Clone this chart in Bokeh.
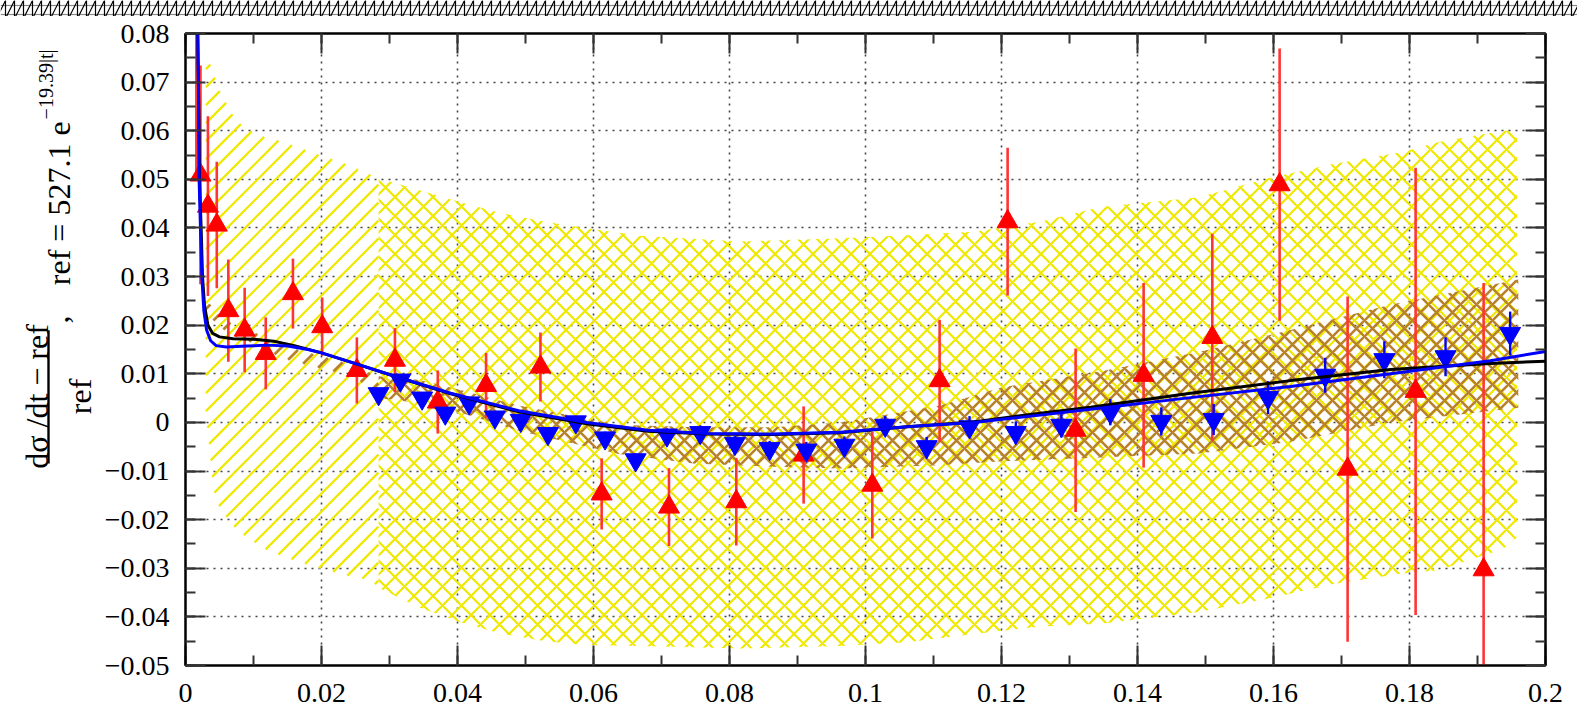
import numpy as np
from bokeh.plotting import figure
from bokeh.models import (LinearAxis, FixedTicker, CustomJSTickFormatter, Range1d)
from bokeh.core.properties import value
from bokeh.layouts import column, row
from bokeh.embed import file_html
from bokeh.resources import INLINE

# ---------------- data ----------------
red_t = [0.0016, 0.0022, 0.0033, 0.0046, 0.0063, 0.0087, 0.0118, 0.0158, 0.0201, 0.0252,
         0.0308, 0.0371, 0.0442, 0.0522, 0.0612, 0.0711, 0.0810, 0.0909, 0.1010, 0.1109,
         0.1209, 0.1309, 0.1409, 0.1510, 0.1609, 0.1709, 0.1809, 0.1909]
red_v = [0.088, 0.0509, 0.0445, 0.0406, 0.0230, 0.0190, 0.0142, 0.0265, 0.0197, 0.0107,
         0.0128, 0.0042, 0.0076, 0.0114, -0.0147, -0.0174, -0.0163, -0.0067, -0.0129, 0.0086,
         0.0413, -0.0016, 0.0097, 0.0175, 0.0489, -0.0096, 0.0064, -0.0303]
red_err = [0.038, 0.0225, 0.0185, 0.013, 0.0105, 0.0087, 0.0074, 0.0072, 0.0060, 0.0068,
           0.0066, 0.0065, 0.0067, 0.0071, 0.0073, 0.0080, 0.0090, 0.0100, 0.0110, 0.0125,
           0.0152, 0.0168, 0.0190, 0.0213, 0.0280, 0.0355, 0.0460, 0.0590]

blue_t = [0.0284, 0.0316, 0.0348, 0.0382, 0.0417, 0.0455, 0.0493, 0.0533, 0.0574, 0.0617,
          0.0662, 0.0708, 0.0757, 0.0808, 0.0859, 0.0913, 0.0969, 0.1029, 0.1090, 0.1153,
          0.1221, 0.1288, 0.1360, 0.1435, 0.1512, 0.1592, 0.1676, 0.1763, 0.1853, 0.1948]
blue_v = [0.0059, 0.0087, 0.0050, 0.0019, 0.0040, 0.0011, 0.0004, -0.0023, 0.0001, -0.0032,
          -0.0077, -0.0026, -0.0021, -0.0043, -0.0054, -0.0057, -0.0047, -0.0006, -0.0050, -0.0009,
          -0.0021, -0.0006, 0.0021, 0.0002, 0.0006, 0.0051, 0.0097, 0.0129, 0.0135, 0.0183]
blue_err = [0.0010, 0.0010, 0.0010, 0.0010, 0.0010, 0.0011, 0.0011, 0.0012, 0.0012, 0.0013,
            0.0013, 0.0014, 0.0015, 0.0015, 0.0016, 0.0017, 0.0018, 0.0019, 0.0020, 0.0022,
            0.0023, 0.0025, 0.0027, 0.0029, 0.0032, 0.0034, 0.0036, 0.0038, 0.0040, 0.0045]

black_t = [0.0017, 0.0018, 0.0019, 0.0020, 0.00205, 0.0023, 0.0025, 0.0028, 0.0033, 0.0040,
           0.0050, 0.0070, 0.0100, 0.0130, 0.0160, 0.0200, 0.0250, 0.0310, 0.0390, 0.0490,
           0.0590, 0.0680, 0.0767, 0.0865, 0.0963, 0.1061, 0.1159, 0.1257, 0.1331, 0.1478,
           0.1625, 0.1772, 0.1919, 0.2000]
black_v = [0.090, 0.080, 0.070, 0.060, 0.050, 0.040, 0.030, 0.024, 0.0200, 0.0183,
           0.0176, 0.0172, 0.0171, 0.0167, 0.0158, 0.0143, 0.0121, 0.0094, 0.0059, 0.0022,
           -0.0003, -0.0018, -0.0024, -0.0025, -0.0021, -0.0009, 0.0001, 0.0019, 0.0031, 0.0060,
           0.0086, 0.0109, 0.0121, 0.0126]

bfit_t = [0.0017, 0.0018, 0.0019, 0.00195, 0.0020, 0.0022, 0.0024, 0.0027, 0.0031, 0.0037,
          0.0045, 0.0060, 0.0090, 0.0120, 0.0150, 0.0180, 0.0200, 0.0250, 0.0310, 0.0390,
          0.0490, 0.0590, 0.0680, 0.0767, 0.0865, 0.0963, 0.1061, 0.1159, 0.1257, 0.1331,
          0.1478, 0.1625, 0.1772, 0.1919, 0.2000]
bfit_v = [0.090, 0.080, 0.070, 0.060, 0.050, 0.040, 0.030, 0.023, 0.0190, 0.0168,
          0.0158, 0.0155, 0.0157, 0.0159, 0.0157, 0.0150, 0.0143, 0.0121, 0.0094, 0.0060,
          0.0024, 0.0000, -0.0016, -0.0023, -0.0024, -0.0020, -0.0009, 0.0000, 0.0015, 0.0027,
          0.0051, 0.0074, 0.0100, 0.0127, 0.0146]

# yellow systematic band
ysys_t = [0.0030, 0.0041, 0.0051, 0.0071, 0.0088, 0.0120, 0.0142, 0.0169, 0.0190, 0.0223,
          0.0240, 0.0272, 0.0284, 0.0343, 0.0402, 0.0466, 0.0529, 0.0588, 0.0669, 0.0816,
          0.0963, 0.1061, 0.1159, 0.1257, 0.1346, 0.1490, 0.1600, 0.1690, 0.1790, 0.1843,
          0.1938, 0.1958]
ysys_hi = [0.0765, 0.0720, 0.0680, 0.0630, 0.0605, 0.0585, 0.0578, 0.0565, 0.0554, 0.0538,
           0.0530, 0.0510, 0.0502, 0.0478, 0.0454, 0.0430, 0.0413, 0.0400, 0.0384, 0.0372,
           0.0379, 0.0385, 0.0392, 0.0413, 0.0443, 0.0463, 0.0505, 0.0532, 0.0556, 0.0577,
           0.0600, 0.0600]
ysys_lo = [0.0020, -0.0140, -0.0180, -0.0215, -0.0235, -0.0263, -0.0275, -0.0288, -0.0298, -0.0310,
           -0.0316, -0.0325, -0.0340, -0.0380, -0.0410, -0.0435, -0.0450, -0.0458, -0.0460, -0.0465,
           -0.0460, -0.0452, -0.0435, -0.0420, -0.0414, -0.0390, -0.0360, -0.0332, -0.0311, -0.0304,
           -0.0260, -0.0236]
ysys_split = 12  # crosshatched from here on (where the second data set starts)

# brown band
brn_t = [0.0030, 0.0047, 0.0066, 0.0091, 0.0121, 0.0150, 0.0184, 0.0223, 0.0257, 0.0284,
         0.0343, 0.0400, 0.0490, 0.0637, 0.0750, 0.0865, 0.0963, 0.1110, 0.1200, 0.1345,
         0.1490, 0.1625, 0.1772, 0.1960]
brn_hi = [0.0254, 0.0225, 0.0206, 0.0193, 0.0171, 0.0155, 0.0142, 0.0128, 0.0110, 0.0095,
          0.0088, 0.0068, 0.0035, -0.0005, -0.0010, -0.0010, 0.0000, 0.0035, 0.0072, 0.0105,
          0.0145, 0.0190, 0.0242, 0.0294]
brn_lo = [0.0228, 0.0199, 0.0180, 0.0167, 0.0145, 0.0129, 0.0116, 0.0102, 0.0084, 0.0050,
          0.0040, 0.0022, -0.0017, -0.0065, -0.0085, -0.0091, -0.0095, -0.0088, -0.0080, -0.0072,
          -0.0064, -0.0040, 0.0000, 0.0030]
brn_split = 9

x_major = [0.0, 0.02, 0.04, 0.06, 0.08, 0.1, 0.12, 0.14, 0.16, 0.18, 0.2]
y_major = [-0.05, -0.04, -0.03, -0.02, -0.01, 0.0, 0.01, 0.02, 0.03, 0.04, 0.05, 0.06, 0.07, 0.08]

# ---------------- layout constants ----------------
W, H = 1577, 723
H_STRIP = 16
TW = 100                              # width of the y-title panel
FL, FR, FT, FB = 185, 1545, 33, 665   # frame edges in page pixels
XMIN, XMAX, YMIN, YMAX = 0.0, 0.2, -0.05, 0.08
PX_T = (FR - FL) / (XMAX - XMIN)      # pixels per unit of |t|
PX_V = (FB - FT) / (YMAX - YMIN)      # pixels per unit of the ratio
FONT = "Liberation Serif"


def diag_hatch(tt, lo, hi, spacing_px, phase_px=0.0):
    """45-degree '/' hatch lines clipped to the band between lo and hi."""
    tt = np.asarray(tt, float)
    X = np.arange(tt[0] * PX_T, tt[-1] * PX_T, 0.25)
    ylo = (np.interp(X / PX_T, tt, lo) - YMIN) * PX_V
    yhi = (np.interp(X / PX_T, tt, hi) - YMIN) * PX_V
    cmin = X[0] - yhi.max()
    cmax = X[-1] - ylo.min()
    xs, ys = [], []
    c = np.floor((cmin - phase_px) / spacing_px) * spacing_px + phase_px
    while c <= cmax:
        Y = X - c
        inside = (Y >= ylo) & (Y <= yhi)
        edges = np.flatnonzero(np.diff(np.concatenate([[0], inside.astype(int), [0]])))
        for a, b in zip(edges[::2], edges[1::2]):
            xs.append([X[a] / PX_T, X[b - 1] / PX_T])
            ys.append([Y[a] / PX_V + YMIN, Y[b - 1] / PX_V + YMIN])
        c += spacing_px
    return xs, ys


# ---------------- top strip ----------------
s = figure(width=W, height=H_STRIP, x_range=Range1d(0, 1), y_range=Range1d(0, 1),
           x_axis_location=None, y_axis_location=None,
           toolbar_location=None, output_backend="svg", min_border=0)
s.grid.visible = False
s.outline_line_color = None
s.quad(left=[0], right=[1], bottom=[0], top=[1], fill_color="white", line_alpha=0,
       hatch_pattern="-", hatch_color="#888888", hatch_scale=9, hatch_weight=1.2)
s.quad(left=[0], right=[1], bottom=[0], top=[1], fill_alpha=0, line_alpha=0,
       hatch_pattern="|", hatch_color="black", hatch_scale=9, hatch_weight=1.2)
s.quad(left=[0], right=[1], bottom=[0], top=[1], fill_alpha=0, line_alpha=0,
       hatch_pattern="/", hatch_color="black", hatch_scale=18, hatch_weight=1.2)

# ---------------- y title panel ----------------
t = figure(width=TW, height=H - H_STRIP, x_range=Range1d(0, TW), y_range=Range1d(H, H_STRIP),
           x_axis_location=None, y_axis_location=None,
           toolbar_location=None, output_backend="svg", min_border=0)
t.grid.visible = False
t.outline_line_color = None
t.border_fill_color = "white"
t.background_fill_color = "white"

title_parts = ["ref  =  527.1 e", "\u221219.39|t|", ",", "d\u03c3 /dt \u2212 ref", "ref"]
title_x = [58, 45, 57, 36, 79]
title_y = [197, 73, 336, 422, 422]
title_size = ["32px", "20px", "32px", "32px", "32px"]
for txt, xx, yy, fs in zip(title_parts, title_x, title_y, title_size):
    t.text(x=[xx], y=[yy], text=[txt], angle=np.pi / 2, text_align="center",
           text_baseline="alphabetic", text_font=value(FONT), text_font_size=value(fs),
           text_color="black")
t.segment(x0=[48], y0=[348], x1=[48], y1=[497], line_color="black", line_width=2.4)

# ---------------- main plot ----------------
p = figure(width=W - TW, height=H - H_STRIP, x_range=Range1d(XMIN, XMAX), y_range=Range1d(YMIN, YMAX),
           toolbar_location=None, output_backend="svg",
           min_border_left=FL - TW, min_border_right=W - FR,
           min_border_top=FT - H_STRIP, min_border_bottom=H - FB)
p.background_fill_color = "white"
p.border_fill_color = "white"
p.outline_line_color = "black"
p.outline_line_width = 2

bottom_ax = p.below[0]
left_ax = p.left[0]

fmt = CustomJSTickFormatter(code="""
const v = Math.round(tick*1000)/1000;
if (v === 0) { return "0"; }
return v.toString().replace("-", "\\u2212");
""")

xt = FixedTicker(ticks=x_major, minor_ticks=list(np.round(np.arange(0, 0.2001, 0.01), 3)))
yt = FixedTicker(ticks=y_major, minor_ticks=list(np.round(np.arange(-0.05, 0.0801, 0.005), 4)))

bottom_ax.ticker = xt
left_ax.ticker = yt
bottom_ax.formatter = fmt
left_ax.formatter = fmt

right_ax = LinearAxis(ticker=yt, formatter=fmt)
top_ax = LinearAxis(ticker=xt, formatter=fmt)
p.add_layout(right_ax, "right")
p.add_layout(top_ax, "above")

for ax in [bottom_ax, left_ax, right_ax, top_ax]:
    ax.major_tick_in = 20
    ax.major_tick_out = 0
    ax.minor_tick_in = 10
    ax.minor_tick_out = 0
    ax.major_tick_line_width = 2
    ax.minor_tick_line_width = 2
    ax.major_tick_line_color = "#333333"
    ax.minor_tick_line_color = "#333333"
    ax.axis_line_width = 2
    ax.axis_line_color = "black"
    ax.major_label_text_font = FONT
    ax.major_label_text_font_size = "28px"
    ax.major_label_text_color = "black"

for ax in [right_ax, top_ax]:
    ax.major_label_text_font_size = "0px"
    ax.major_label_standoff = 0
    ax.major_label_text_alpha = 0

left_ax.major_label_standoff = 16
bottom_ax.major_label_standoff = 18

p.xgrid.ticker = xt
p.ygrid.ticker = yt
p.grid.grid_line_color = "#444444"
p.grid.grid_line_dash = "2 5"
p.grid.grid_line_width = 1.6

# bands: 45-degree single hatch before the split, diagonal cross-hatch after it
YEL = "#efe800"
BRN = "#b8822a"
ys = ysys_split
yx, yy = diag_hatch(ysys_t[:ys + 1], ysys_lo[:ys + 1], ysys_hi[:ys + 1], 18)
p.multi_line(xs=yx, ys=yy, line_color=YEL, line_width=2.2)
p.varea(x=ysys_t[ys:], y1=ysys_lo[ys:], y2=ysys_hi[ys:], fill_alpha=0,
        hatch_pattern="x", hatch_color=YEL, hatch_scale=19, hatch_weight=2.2)
bs = brn_split
bx, by = diag_hatch(brn_t[:bs + 1], brn_lo[:bs + 1], brn_hi[:bs + 1], 19, 6)
p.multi_line(xs=bx, ys=by, line_color=BRN, line_width=2.8)
p.varea(x=brn_t[bs:], y1=brn_lo[bs:], y2=brn_hi[bs:], fill_alpha=0,
        hatch_pattern="x", hatch_color=BRN, hatch_scale=16, hatch_weight=2.6)

# red data
red_lo = [v - e for v, e in zip(red_v, red_err)]
red_hi = [v + e for v, e in zip(red_v, red_err)]
p.segment(x0=red_t, y0=red_lo, x1=red_t, y1=red_hi, line_color="#ff3434", line_width=2.6)
p.scatter(x=red_t, y=red_v, marker="triangle", size=21, fill_color="#ff0000", line_color="#ff0000")

# blue data
blue_lo = [v - e for v, e in zip(blue_v, blue_err)]
blue_hi = [v + e for v, e in zip(blue_v, blue_err)]
p.segment(x0=blue_t, y0=blue_lo, x1=blue_t, y1=blue_hi, line_color="#0000ff", line_width=2.4)
p.scatter(x=blue_t, y=blue_v, marker="inverted_triangle", size=21, fill_color="#0000ff",
          line_color="#0000ff")

# fit curves
p.line(black_t, black_v, line_color="black", line_width=3)
p.line(bfit_t, bfit_v, line_color="#0000ff", line_width=3)

layout = column(s, row(t, p, spacing=0), spacing=0)
open("out.html", "w").write(file_html(layout, INLINE))
